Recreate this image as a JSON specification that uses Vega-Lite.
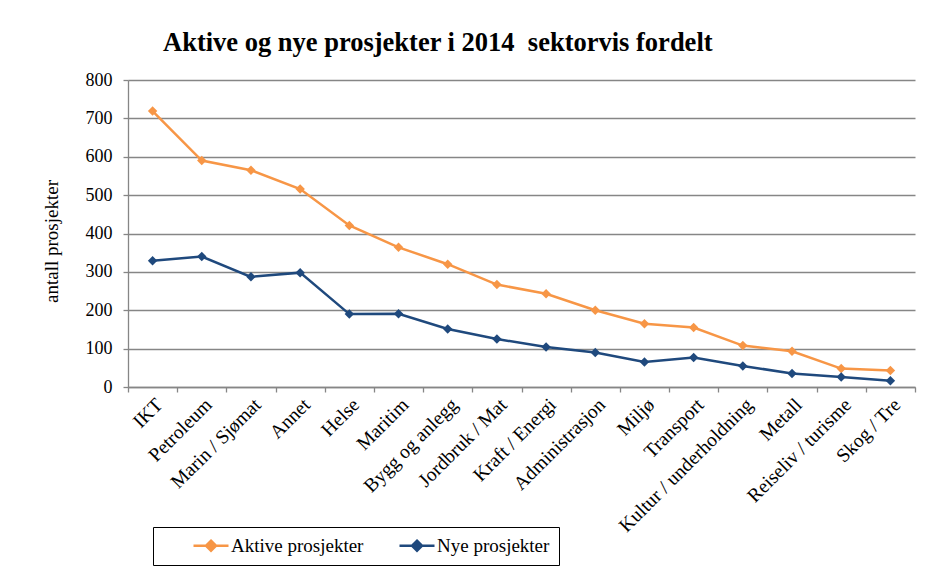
{
  "$schema": "https://vega.github.io/schema/vega-lite/v6.json",
  "width": 787,
  "height": 307,
  "autosize": {"type": "none"},
  "padding": {"left": 128, "top": 80, "right": 16, "bottom": 184},
  "background": "white",
  "title": {
    "text": "Aktive og nye prosjekter i 2014\u00a0 sektorvis fordelt",
    "font": "Liberation Serif",
    "fontSize": 26.5,
    "fontWeight": "bold",
    "color": "black",
    "anchor": "start",
    "frame": "group",
    "dx": 35,
    "offset": 15
  },
  "data": {
    "values": [
      {"sektor": "IKT", "serie": "Aktive prosjekter", "antall": 719},
      {"sektor": "Petroleum", "serie": "Aktive prosjekter", "antall": 590},
      {"sektor": "Marin / Sjømat", "serie": "Aktive prosjekter", "antall": 565},
      {"sektor": "Annet", "serie": "Aktive prosjekter", "antall": 516},
      {"sektor": "Helse", "serie": "Aktive prosjekter", "antall": 421},
      {"sektor": "Maritim", "serie": "Aktive prosjekter", "antall": 364},
      {"sektor": "Bygg og anlegg", "serie": "Aktive prosjekter", "antall": 320},
      {"sektor": "Jordbruk / Mat", "serie": "Aktive prosjekter", "antall": 267},
      {"sektor": "Kraft / Energi", "serie": "Aktive prosjekter", "antall": 243},
      {"sektor": "Administrasjon", "serie": "Aktive prosjekter", "antall": 200},
      {"sektor": "Miljø", "serie": "Aktive prosjekter", "antall": 165},
      {"sektor": "Transport", "serie": "Aktive prosjekter", "antall": 155},
      {"sektor": "Kultur / underholdning", "serie": "Aktive prosjekter", "antall": 108},
      {"sektor": "Metall", "serie": "Aktive prosjekter", "antall": 93},
      {"sektor": "Reiseliv / turisme", "serie": "Aktive prosjekter", "antall": 48},
      {"sektor": "Skog / Tre", "serie": "Aktive prosjekter", "antall": 43},
      {"sektor": "IKT", "serie": "Nye prosjekter", "antall": 329},
      {"sektor": "Petroleum", "serie": "Nye prosjekter", "antall": 340},
      {"sektor": "Marin / Sjømat", "serie": "Nye prosjekter", "antall": 287},
      {"sektor": "Annet", "serie": "Nye prosjekter", "antall": 298},
      {"sektor": "Helse", "serie": "Nye prosjekter", "antall": 190},
      {"sektor": "Maritim", "serie": "Nye prosjekter", "antall": 191},
      {"sektor": "Bygg og anlegg", "serie": "Nye prosjekter", "antall": 151},
      {"sektor": "Jordbruk / Mat", "serie": "Nye prosjekter", "antall": 125},
      {"sektor": "Kraft / Energi", "serie": "Nye prosjekter", "antall": 104},
      {"sektor": "Administrasjon", "serie": "Nye prosjekter", "antall": 90},
      {"sektor": "Miljø", "serie": "Nye prosjekter", "antall": 65},
      {"sektor": "Transport", "serie": "Nye prosjekter", "antall": 77},
      {"sektor": "Kultur / underholdning", "serie": "Nye prosjekter", "antall": 55},
      {"sektor": "Metall", "serie": "Nye prosjekter", "antall": 35},
      {"sektor": "Reiseliv / turisme", "serie": "Nye prosjekter", "antall": 26},
      {"sektor": "Skog / Tre", "serie": "Nye prosjekter", "antall": 16}
    ]
  },
  "mark": {
    "type": "line",
    "strokeWidth": 2.5,
    "point": {"shape": "diamond", "size": 90, "filled": true}
  },
  "encoding": {
    "x": {
      "field": "sektor",
      "type": "nominal",
      "sort": null,
      "scale": {"type": "band", "paddingInner": 0, "paddingOuter": 0},
      "axis": {
        "title": null,
        "labelAngle": -45,
        "tickBand": "extent",
        "grid": false,
        "domainColor": "#868686",
        "domainWidth": 1.3,
        "tickColor": "#868686",
        "tickWidth": 1.3,
        "tickSize": 5,
        "labelFont": "Liberation Serif",
        "labelFontSize": 19.5,
        "labelColor": "black",
        "labelPadding": 3,
        "labelLimit": 300
      }
    },
    "y": {
      "field": "antall",
      "type": "quantitative",
      "scale": {"domain": [0, 800]},
      "axis": {
        "title": "antall prosjekter",
        "titleFont": "Liberation Serif",
        "titleFontSize": 19,
        "titleFontWeight": "normal",
        "titleColor": "black",
        "titlePadding": 24,
        "titleY": 161,
        "values": [0, 100, 200, 300, 400, 500, 600, 700, 800],
        "grid": true,
        "gridColor": "#868686",
        "gridWidth": 1.3,
        "domainColor": "#868686",
        "domainWidth": 1.3,
        "tickColor": "#868686",
        "tickWidth": 1.3,
        "tickSize": 5,
        "labelFont": "Liberation Serif",
        "labelFontSize": 18,
        "labelColor": "black",
        "labelPadding": 11
      }
    },
    "color": {
      "field": "serie",
      "type": "nominal",
      "scale": {
        "domain": ["Aktive prosjekter", "Nye prosjekter"],
        "range": ["#F79646", "#1F497D"]
      },
      "legend": {
        "title": null,
        "orient": "none",
        "legendX": 25,
        "legendY": 447,
        "direction": "horizontal",
        "strokeColor": "black",
        "fillColor": "white",
        "padding": 9,
        "symbolType": "M-3.5,0L3.5,0M0,-1L1,0L0,1L-1,0Z",
        "symbolSize": 100,
        "symbolStrokeWidth": 2.5,
        "symbolOffset": 39.5,
        "labelFont": "Liberation Serif",
        "labelFontSize": 19,
        "labelColor": "black",
        "labelOffset": 10.5,
        "columnPadding": 4,
        "labelLimit": 300,
        "encode": {
          "legend": {"update": {"width": {"value": 434}}}
        }
      }
    }
  },
  "config": {
    "view": {"stroke": null}
  }
}
